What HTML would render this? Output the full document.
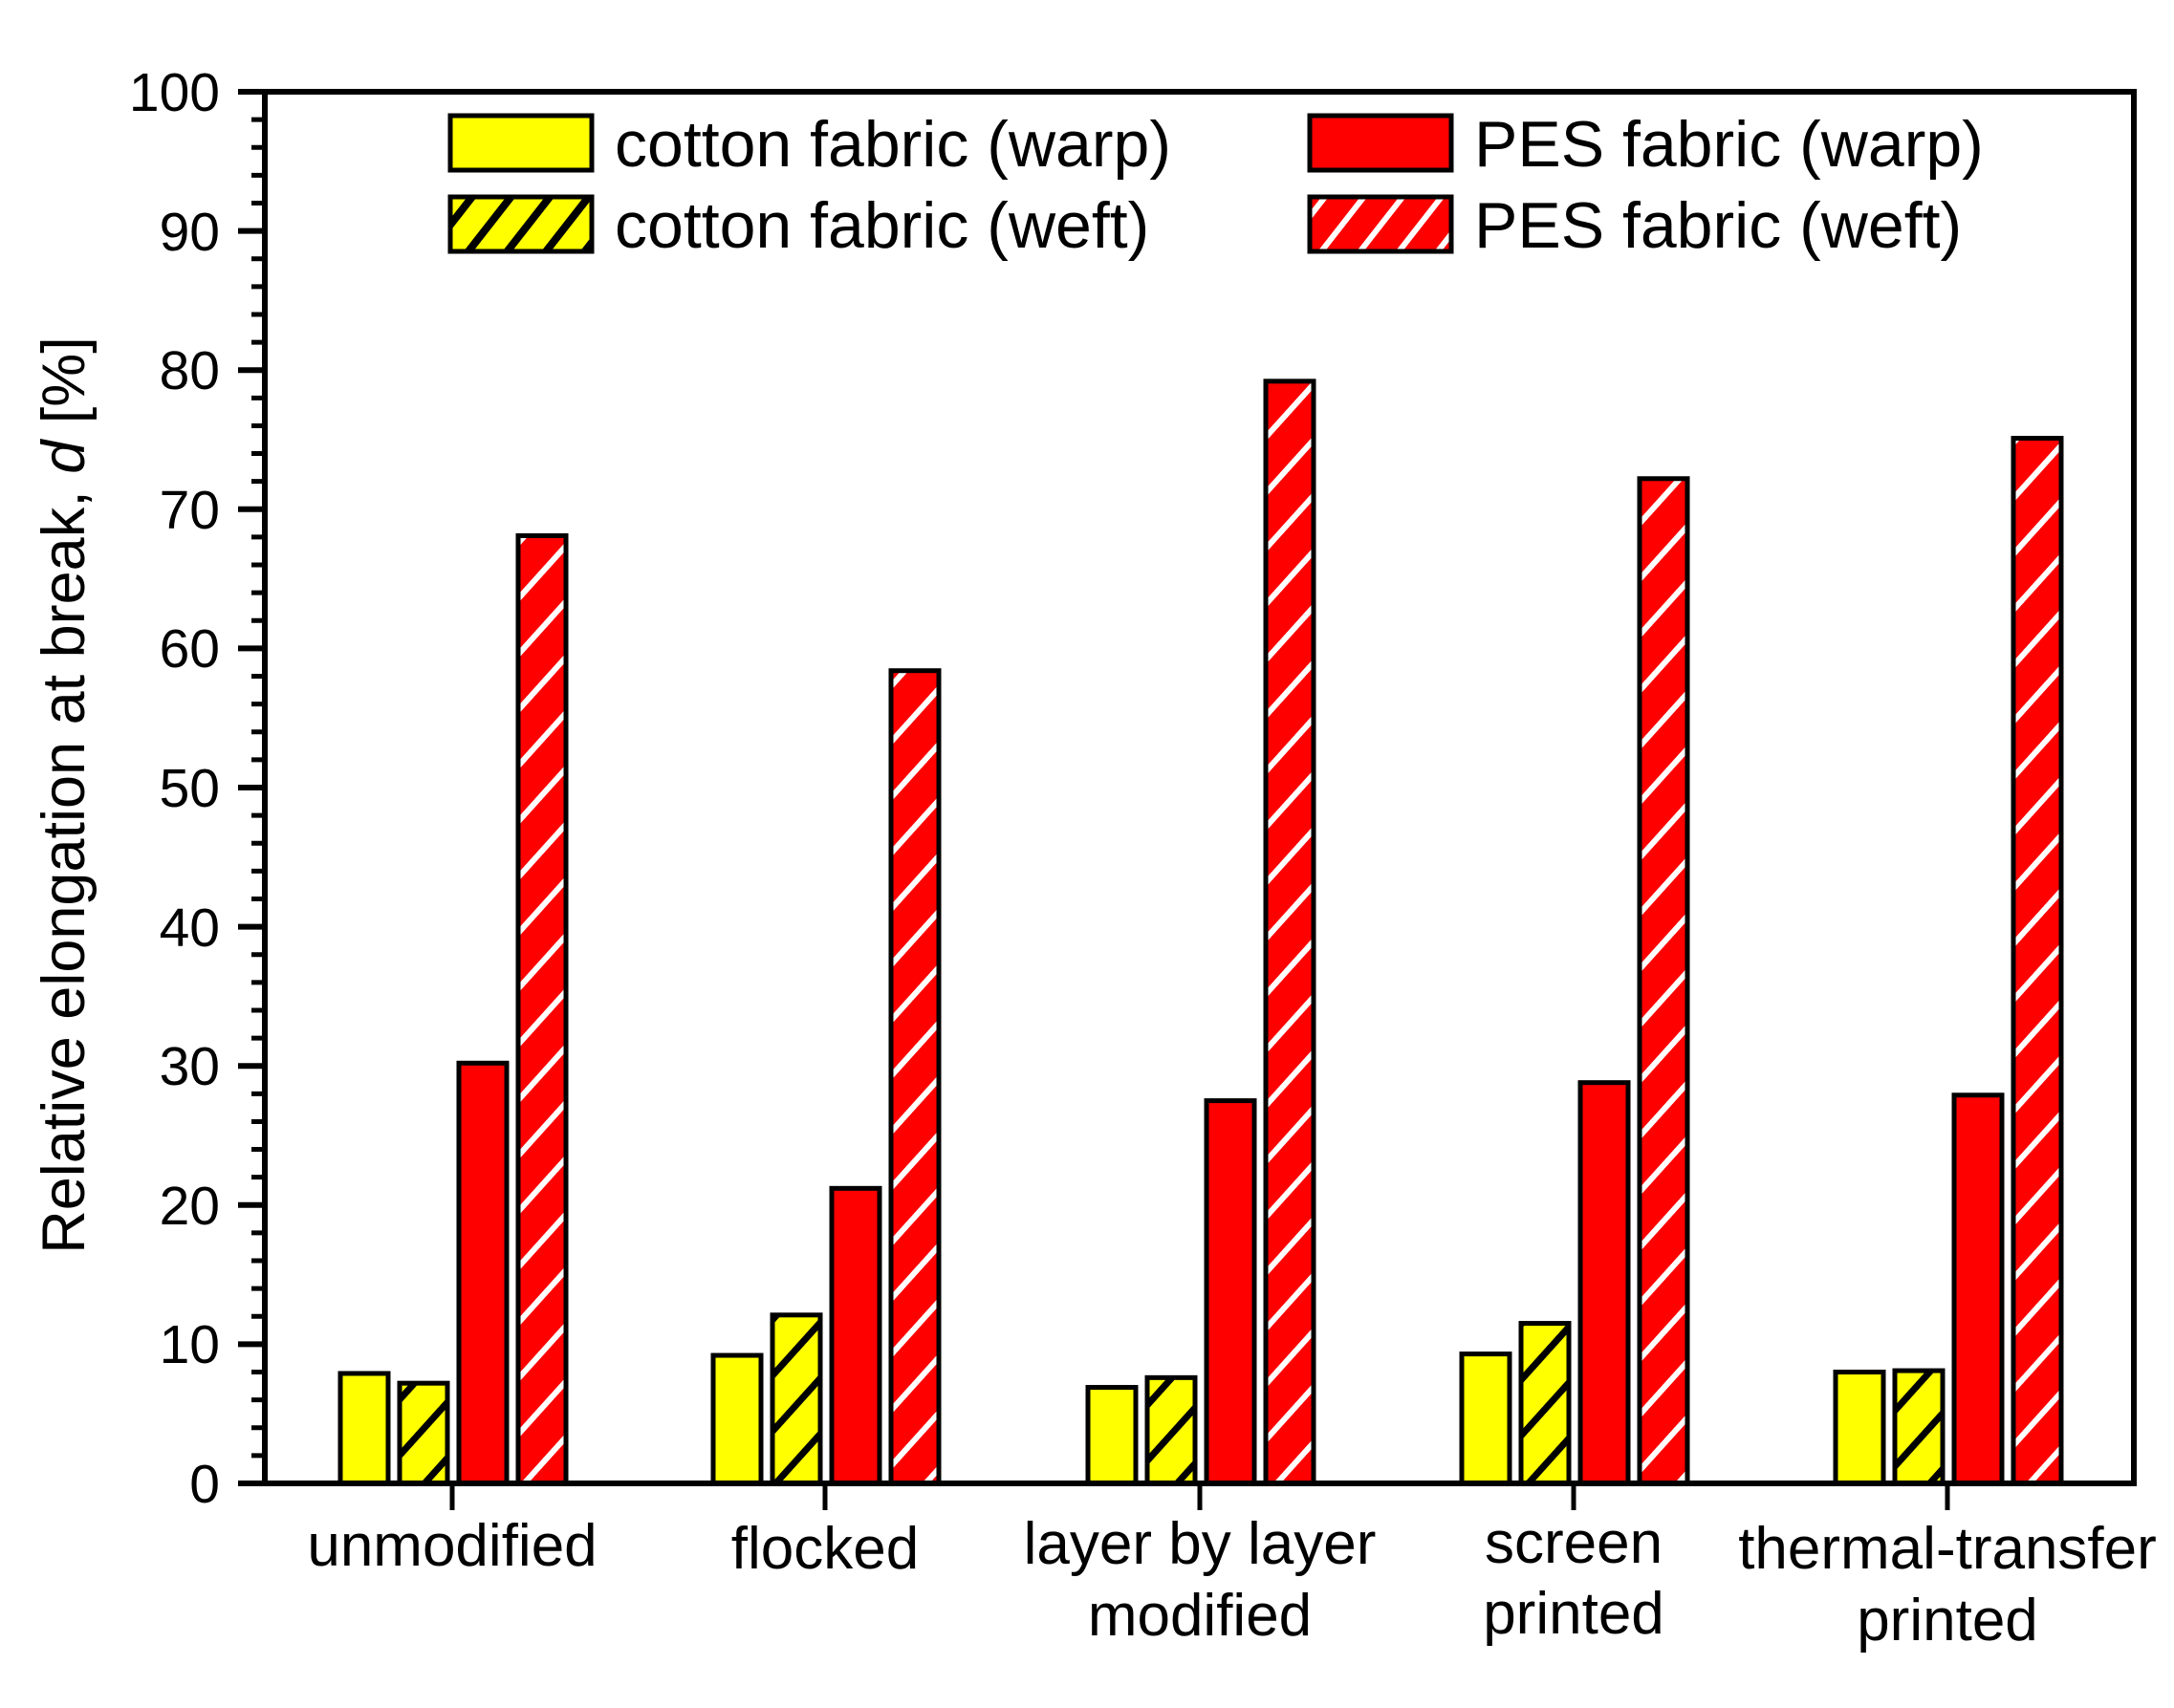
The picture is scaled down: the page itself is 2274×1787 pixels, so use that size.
<!DOCTYPE html>
<html><head><meta charset="utf-8"><style>html,body{margin:0;padding:0;background:#fff}svg{display:block}</style></head>
<body>
<svg width="2274" height="1787" viewBox="0 0 2274 1787" xmlns="http://www.w3.org/2000/svg" font-family="Liberation Sans, Arial, sans-serif">
<defs>
<pattern id="hb" patternUnits="userSpaceOnUse" width="32" height="32" patternTransform="rotate(-52)">
<rect width="32" height="32" fill="#ffff00"/><rect x="0" y="0" width="32" height="8" fill="#000"/></pattern>
<pattern id="hw" patternUnits="userSpaceOnUse" width="32" height="32" patternTransform="rotate(-52)">
<rect width="32" height="32" fill="#ff0000"/><rect x="0" y="0" width="32" height="6" fill="#fff"/></pattern>
<pattern id="bb" patternUnits="userSpaceOnUse" width="39" height="39" patternTransform="rotate(-48)">
<rect width="39" height="39" fill="#ffff00"/><rect x="0" y="0" width="39" height="7" fill="#000"/></pattern>
<pattern id="bw" patternUnits="userSpaceOnUse" width="39" height="39" patternTransform="rotate(-48)">
<rect width="39" height="39" fill="#ff0000"/><rect x="0" y="0" width="39" height="6" fill="#fff"/></pattern>
</defs>
<rect width="2274" height="1787" fill="#fff"/>
<g id="bars" stroke="#000" stroke-width="5"></g>
<g stroke="#000">
<rect x="277" y="96" width="1955" height="1456" fill="none" stroke-width="6"/>
<path stroke-width="6" d="M249 1552H277M249 1406.4H277M249 1260.8H277M249 1115.2H277M249 969.6H277M249 824H277M249 678.4H277M249 532.8H277M249 387.2H277M249 241.6H277M249 96H277"/>
<path stroke-width="5" d="M263 1522.88H277M263 1493.76H277M263 1464.64H277M263 1435.52H277M263 1377.28H277M263 1348.16H277M263 1319.04H277M263 1289.92H277M263 1231.68H277M263 1202.56H277M263 1173.44H277M263 1144.32H277M263 1086.08H277M263 1056.96H277M263 1027.84H277M263 998.72H277M263 940.48H277M263 911.36H277M263 882.24H277M263 853.12H277M263 794.88H277M263 765.76H277M263 736.64H277M263 707.52H277M263 649.28H277M263 620.16H277M263 591.04H277M263 561.92H277M263 503.68H277M263 474.56H277M263 445.44H277M263 416.32H277M263 358.08H277M263 328.96H277M263 299.84H277M263 270.72H277M263 212.48H277M263 183.36H277M263 154.24H277M263 125.12H277"/>
<path stroke-width="5" d="M473 1552V1580M863 1552V1580M1255 1552V1580M1646 1552V1580M2037 1552V1580"/>
</g>
<g font-size="57" fill="#000" text-anchor="end">
<text x="230" y="1572">0</text>
<text x="230" y="1426">10</text>
<text x="230" y="1281">20</text>
<text x="230" y="1135">30</text>
<text x="230" y="990">40</text>
<text x="230" y="844">50</text>
<text x="230" y="698">60</text>
<text x="230" y="553">70</text>
<text x="230" y="407">80</text>
<text x="230" y="262">90</text>
<text x="230" y="116">100</text>
</g>
<g stroke="#000" stroke-width="5">
<rect x="471" y="121" width="148" height="57" fill="#ffff00"/>
<rect x="471" y="206" width="148" height="57" fill="url(#hb)"/>
<rect x="1370" y="121" width="148" height="57" fill="#ff0000"/>
<rect x="1370" y="206" width="148" height="57" fill="url(#hw)"/>
</g>
<g font-size="68" fill="#000">
<text x="643" y="174">cotton fabric (warp)</text>
<text x="643" y="259">cotton fabric (weft)</text>
<text x="1542" y="174">PES fabric (warp)</text>
<text x="1542" y="259">PES fabric (weft)</text>
</g>
<text transform="translate(88,832) rotate(-90)" text-anchor="middle" font-size="63" fill="#000">Relative elongation at break, <tspan font-style="italic">d</tspan> [%]</text>
<g font-size="62" fill="#000" text-anchor="middle">
<text x="473" y="1638">unmodified</text>
<text x="863" y="1641">flocked</text>
<text x="1255" y="1636">layer by layer</text>
<text x="1255" y="1711">modified</text>
<text x="1646" y="1635">screen</text>
<text x="1646" y="1709">printed</text>
<text x="2037" y="1641">thermal-transfer</text>
<text x="2037" y="1716">printed</text>
</g>
<script>
var Y0=1552,S=14.56;
var data=[[7.9,7.2,30.2,68.1],[9.2,12.1,21.2,58.4],[6.9,7.6,27.5,79.2],[9.3,11.5,28.8,72.2],[8.0,8.1,27.9,75.1]];
var centers=[473,863,1255,1646,2037];
var fills=["#ffff00","url(#bb)","#ff0000","url(#bw)"];
var ns="http://www.w3.org/2000/svg";
var g=document.getElementById("bars");
data.forEach(function(d,i){d.forEach(function(v,j){var x=centers[i]-117+j*62;var h=v*S;var r=document.createElementNS(ns,"rect");r.setAttribute("x",x);r.setAttribute("y",Y0-h);r.setAttribute("width",50);r.setAttribute("height",h);r.setAttribute("fill",fills[j]);g.appendChild(r);});});
</script>
</svg>
</body></html>
